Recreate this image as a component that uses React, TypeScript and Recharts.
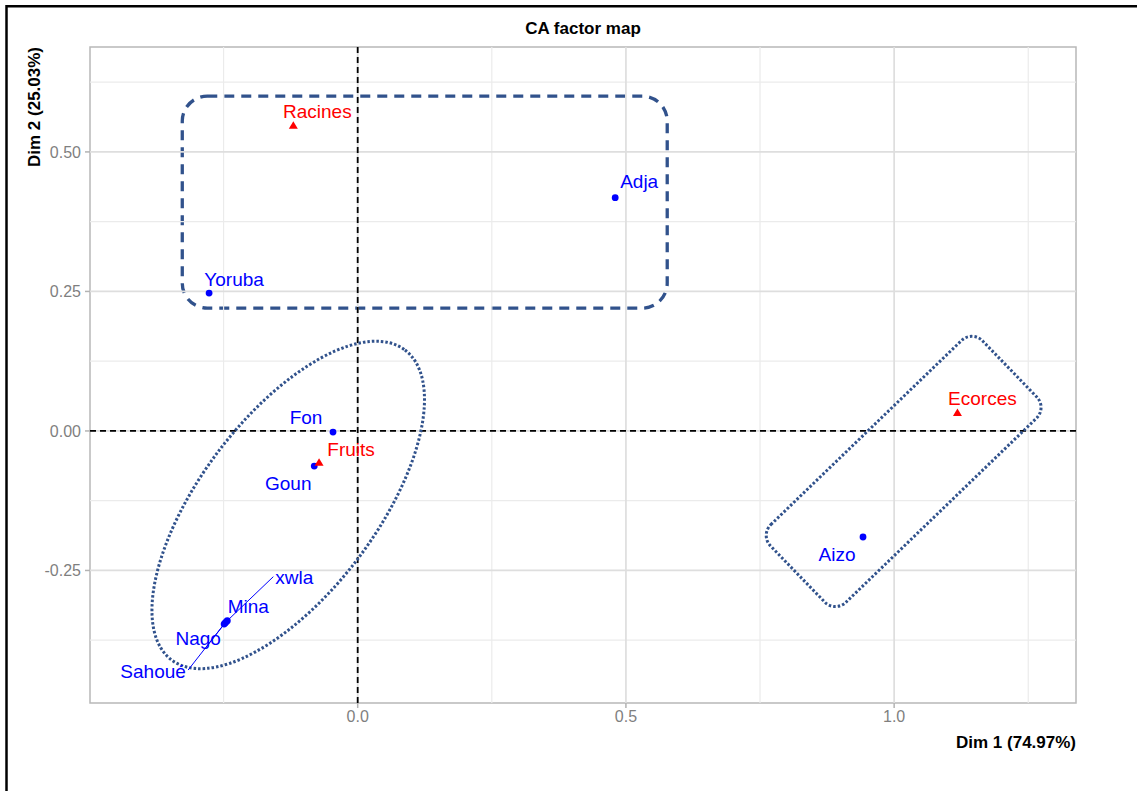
import React from 'react';
import { ScatterChart, Scatter, XAxis, YAxis, ReferenceLine, ReferenceArea, ReferenceDot } from 'recharts';

// Row points (blue)
const rowNames = ['Adja', 'Yoruba', 'Fon', 'Goun', 'Aizo', 'Mina', 'Nago', 'Sahoué', 'xwla'];
const rowDim1 = [0.480, -0.277, -0.046, -0.081, 0.942, -0.245, -0.247, -0.249, -0.243];
const rowDim2 = [0.418, 0.247, -0.002, -0.063, -0.190, -0.342, -0.344, -0.346, -0.340];

// Column points (red)
const colNames = ['Racines', 'Fruits', 'Ecorces'];
const colDim1 = [-0.120, -0.072, 1.118];
const colDim2 = [0.547, -0.057, 0.032];

// Axes
const xDomain = [-0.499, 1.339];
const yDomain = [-0.4875, 0.688];
const xTicks = [0, 0.5, 1.0];
const yTicks = [-0.25, 0, 0.25, 0.5];
const xMinor = [-0.25, 0.25, 0.75, 1.25];
const yMinor = [-0.375, -0.125, 0.125, 0.375, 0.625];

// Annotation groups (data coordinates)
const boxGroup = { x1: -0.327, x2: 0.577, y1: 0.22, y2: 0.6 };
const ellipseCenter = { x: -0.1295, y: -0.1326 };
const rotBoxCenter = { x: 1.0177, y: -0.0726 };

const rowData = rowNames.map((name, i) => ({ name, x: rowDim1[i], y: rowDim2[i] }));
const colData = colNames.map((name, i) => ({ name, x: colDim1[i], y: colDim2[i] }));

// label placement (pixel offsets from point, ggrepel-like)
const labelOffsets: Record<string, [number, number]> = {
  Adja: [24, -16],
  Yoruba: [25, -14],
  Fon: [-27, -15],
  Goun: [-26, 17],
  Aizo: [-26, 18],
  Mina: [22, -15],
  Nago: [-27, 16],
  'Sahoué': [-71, 47],
  xwla: [67, -43],
  Racines: [24, -14],
  Fruits: [32, -13],
  Ecorces: [25, -15],
};
const segmentStarts: Record<string, [number, number]> = {
  Nago: [-18, 23],
  'Sahoué': [-36, 46],
  xwla: [46, -44],
};

const BLUE = '#0000ff';
const RED = '#ff0000';
const GROUP = '#31528c';
const FONT = '"Liberation Sans", Arial, Helvetica, sans-serif';

const RowShape = (props: any) => {
  const { cx, cy, payload } = props;
  if (cx == null || cy == null) return null;
  const off = labelOffsets[payload.name] || [0, 0];
  const seg = segmentStarts[payload.name];
  return (
    <g>
      {seg && (
        <line x1={cx + seg[0]} y1={cy + seg[1]} x2={cx} y2={cy} stroke={BLUE} strokeWidth={1} />
      )}
      <circle cx={cx} cy={cy} r={3.4} fill={BLUE} />
      <text
        x={cx + off[0]}
        y={cy + off[1]}
        textAnchor="middle"
        dominantBaseline="central"
        fontSize={19}
        fill={BLUE}
        fontFamily={FONT}
      >
        {payload.name}
      </text>
    </g>
  );
};

const ColShape = (props: any) => {
  const { cx, cy, payload } = props;
  if (cx == null || cy == null) return null;
  const off = labelOffsets[payload.name] || [0, 0];
  return (
    <g>
      <path d={`M${cx},${cy - 4.5} L${cx + 4.5},${cy + 3} L${cx - 4.5},${cy + 3} Z`} fill={RED} />
      <text
        x={cx + off[0]}
        y={cy + off[1]}
        textAnchor="middle"
        dominantBaseline="central"
        fontSize={19}
        fill={RED}
        fontFamily={FONT}
      >
        {payload.name}
      </text>
    </g>
  );
};

export default function App() {
  return (
    <div style={{ position: 'absolute', left: 0, top: 0, width: 1137, height: 791, background: '#fff', fontFamily: FONT }}>
      <ScatterChart width={1137} height={791} margin={{ top: 47, right: 61, bottom: 58, left: 30 }}>
        <XAxis
          type="number"
          dataKey="x"
          domain={xDomain}
          allowDataOverflow
          ticks={xTicks}
          tickFormatter={(v: number) => v.toFixed(1)}
          axisLine={false}
          tickLine={{ stroke: '#b3b3b3', strokeWidth: 1.5 }}
          tickSize={5}
          tickMargin={3}
          tick={{ fill: '#7f7f7f', fontSize: 16 }}
          height={30}
        />
        <YAxis
          type="number"
          dataKey="y"
          domain={yDomain}
          allowDataOverflow
          ticks={yTicks}
          tickFormatter={(v: number) => v.toFixed(2)}
          axisLine={false}
          tickLine={{ stroke: '#b3b3b3', strokeWidth: 1.5 }}
          tickSize={5}
          tickMargin={4}
          tick={{ fill: '#7f7f7f', fontSize: 16 }}
          width={60}
        />
        {xMinor.map((v) => (
          <ReferenceLine key={'xm' + v} x={v} stroke="#ebebeb" strokeWidth={1.2} />
        ))}
        {yMinor.map((v) => (
          <ReferenceLine key={'ym' + v} y={v} stroke="#ebebeb" strokeWidth={1.2} />
        ))}
        {xTicks.map((v) => (
          <ReferenceLine key={'xM' + v} x={v} stroke="#dedede" strokeWidth={1.7} />
        ))}
        {yTicks.map((v) => (
          <ReferenceLine key={'yM' + v} y={v} stroke="#dedede" strokeWidth={1.7} />
        ))}
        <ReferenceArea
          x1={xDomain[0]}
          x2={xDomain[1]}
          y1={yDomain[0]}
          y2={yDomain[1]}
          fill="none"
          fillOpacity={0}
          stroke="#b8b8b8"
          strokeWidth={1.5}
        />
        <ReferenceLine x={0} stroke="#000" strokeWidth={1.8} strokeDasharray="6 4" />
        <ReferenceLine y={0} stroke="#000" strokeWidth={1.8} strokeDasharray="6 4" />
        <ReferenceArea
          x1={boxGroup.x1}
          x2={boxGroup.x2}
          y1={boxGroup.y1}
          y2={boxGroup.y2}
          shape={(p: any) => (
            <rect
              x={p.x}
              y={p.y}
              width={p.width}
              height={p.height}
              rx={25}
              ry={25}
              fill="none"
              stroke={GROUP}
              strokeWidth={3.3}
              strokeDasharray="10 7"
            />
          )}
        />
        <ReferenceDot
          x={ellipseCenter.x}
          y={ellipseCenter.y}
          shape={(p: any) => (
            <ellipse
              cx={p.cx}
              cy={p.cy}
              rx={194}
              ry={88}
              transform={`rotate(-53 ${p.cx} ${p.cy})`}
              fill="none"
              stroke={GROUP}
              strokeWidth={3}
              strokeDasharray="2.5 2"
            />
          )}
        />
        <ReferenceDot
          x={rotBoxCenter.x}
          y={rotBoxCenter.y}
          shape={(p: any) => (
            <rect
              x={p.cx - 147.5}
              y={p.cy - 54}
              width={295}
              height={108}
              rx={15}
              ry={15}
              transform={`rotate(-44 ${p.cx} ${p.cy})`}
              fill="none"
              stroke={GROUP}
              strokeWidth={3}
              strokeDasharray="2.5 2"
            />
          )}
        />
        <Scatter data={rowData} isAnimationActive={false} shape={RowShape} />
        <Scatter data={colData} isAnimationActive={false} shape={ColShape} />
      </ScatterChart>
      <svg
        width={1137}
        height={791}
        style={{ position: 'absolute', left: 0, top: 0, pointerEvents: 'none' }}
      >
        <line x1={6.5} y1={6.2} x2={1137} y2={6.2} stroke="#000" strokeWidth={2.5} />
        <line x1={6.5} y1={5} x2={6.5} y2={791} stroke="#000" strokeWidth={2.5} />
        <text x={583} y={34} textAnchor="middle" fontSize={17} fontWeight="bold" fill="#000" fontFamily={FONT}>
          CA factor map
        </text>
        <text x={1076} y={748} textAnchor="end" fontSize={17} fontWeight="bold" fill="#000" fontFamily={FONT}>
          Dim 1 (74.97%)
        </text>
        <text
          transform="translate(40, 47) rotate(-90)"
          textAnchor="end"
          fontSize={17}
          fontWeight="bold"
          fill="#000"
          fontFamily={FONT}
        >
          Dim 2 (25.03%)
        </text>
      </svg>
    </div>
  );
}
